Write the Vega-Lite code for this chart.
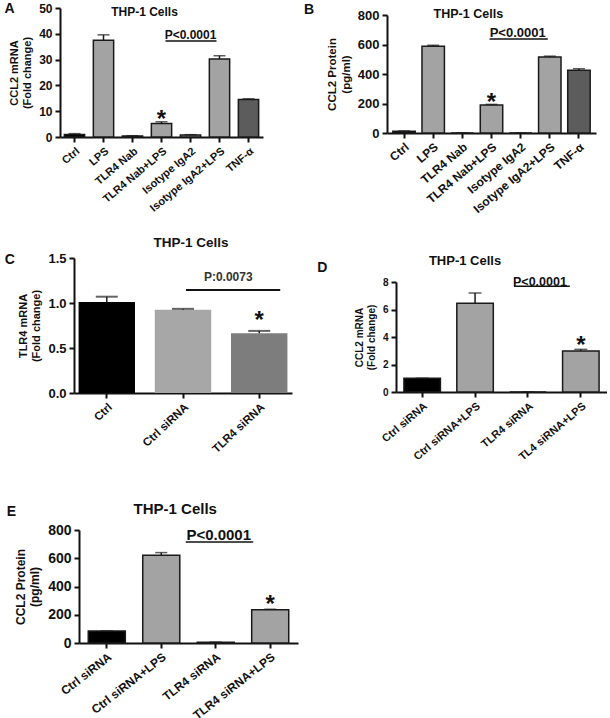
{
"$schema":"https://vega.github.io/schema/vega-lite/v6.json",
"background":"white",
"padding":{"left":4,"top":2,"right":0,"bottom":3},
"bounds":"full",
"spacing":6,
"resolve":{"scale":{"color":"independent"}},
"config":{
 "font":"Liberation Sans",
 "view":{"stroke":null},
 "axis":{"grid":false,"domainColor":"#111","domainWidth":2,"tickColor":"#111","tickWidth":2,"tickSize":5,"labelFontSize":11,"labelFontWeight":"bold","labelColor":"#111","titleFontSize":11,"titleFontWeight":"bold","titleColor":"#111","labelFont":"Liberation Sans","titleFont":"Liberation Sans","labelOverlap":false,"labelPadding":3,"titlePadding":6},
 "axisX":{"labelAngle":-40,"title":null},
 "text":{"font":"Liberation Sans","color":"#111","baseline":"middle"}
},
"hconcat":[
 {"bounds":"full","spacing":46,"resolve":{"scale":{"color":"independent"}},"vconcat":[
  {"bounds":"full","spacing":21,"resolve":{"scale":{"color":"independent"}},"vconcat":[
   {
    "width":203,"height":129,
    "data":{"values":[
     {"c":"Ctrl","v":1.0,"hi":1.3},
     {"c":"LPS","v":37.5,"hi":39.6},
     {"c":"TLR4 Nab","v":0.4,"hi":0.5},
     {"c":"TLR4 Nab+LPS","v":5.2,"hi":5.9},
     {"c":"Isotype IgA2","v":0.8,"hi":0.9},
     {"c":"Isotype IgA2+LPS","v":30.2,"hi":31.5},
     {"c":"TNF-α","v":14.5,"hi":14.8}
    ]},
    "encoding":{
     "x":{"field":"c","type":"nominal","scale":{"domain":["Ctrl","LPS","TLR4 Nab","TLR4 Nab+LPS","Isotype IgA2","Isotype IgA2+LPS","TNF-α"],"paddingInner":0.3,"paddingOuter":0.15},"axis":{"labelFontSize":11}},
     "y":{"field":"v","type":"quantitative","scale":{"domain":[0,50]},"axis":{"values":[0,10,20,30,40,50],"title":["CCL2 mRNA","(Fold change)"],"labelFontSize":12,"titleFontSize":11}}
    },
    "layer":[
     {"mark":{"type":"bar","stroke":"#1a1a1a","strokeWidth":1.5},"encoding":{"color":{"field":"c","type":"nominal","scale":{"domain":["Ctrl","LPS","TLR4 Nab","TLR4 Nab+LPS","Isotype IgA2","Isotype IgA2+LPS","TNF-α"],"range":["#000000","#a3a3a3","#a3a3a3","#a3a3a3","#a3a3a3","#a3a3a3","#5c5c5c"]},"legend":null}}},
     {"mark":{"type":"rule","color":"#1a1a1a","strokeWidth":1.5},"encoding":{"y2":{"field":"hi"}}},
     {"mark":{"type":"tick","color":"#1a1a1a","thickness":1.5,"size":12},"encoding":{"y":{"field":"hi","type":"quantitative"}}},
     {"data":{"values":[{"c":"TLR4 Nab+LPS","v":11.1}]},"mark":{"type":"text","text":"*","fontSize":24,"fontWeight":"bold","baseline":"top"},"encoding":{}},
     {"data":{"values":[{"c":"Isotype IgA2","v":39.5,"t":"P<0.0001"}]},"mark":{"type":"text","fontSize":12,"fontWeight":"bold","baseline":"middle"},"encoding":{"text":{"field":"t"}}},
     {"data":{"values":[{"c":"TLR4 Nab+LPS","c2":"Isotype IgA2+LPS","v":37.2}]},"mark":{"type":"rule","color":"#111","strokeWidth":1.5,"xOffset":4,"x2Offset":-3},"encoding":{"x2":{"field":"c2"}}},
     {"data":{"values":[{"c":"TLR4 Nab","v":48.4,"t":"THP-1 Cells"}]},"mark":{"type":"text","fontSize":12,"fontWeight":"bold","dx":12,"baseline":"middle"},"encoding":{"text":{"field":"t"}}},
     {"data":{"values":[{"c":"Ctrl","v":52.3,"t":"A"}]},"mark":{"type":"text","fontSize":14,"fontWeight":"bold","align":"left","baseline":"top","dx":-70},"encoding":{"text":{"field":"t"}}}
    ]
   },
   {"bounds":"flush","spacing":13,"resolve":{"scale":{"color":"independent"}},"hconcat":[
    {"data":{"values":[]},"mark":"point","width":1,"height":1},
    {
     "width":218,"height":135,
     "data":{"values":[
      {"c":"Ctrl","v":1.01,"hi":1.07},
      {"c":"Ctrl siRNA","v":0.925,"hi":0.935},
      {"c":"TLR4 siRNA","v":0.665,"hi":0.69}
     ]},
     "encoding":{
      "x":{"field":"c","type":"nominal","scale":{"domain":["Ctrl","Ctrl siRNA","TLR4 siRNA"],"paddingInner":0.26,"paddingOuter":0.06},"axis":{"labelFontSize":11.5,"labelAngle":-43}},
      "y":{"field":"v","type":"quantitative","scale":{"domain":[0,1.5]},"axis":{"values":[0,0.5,1,1.5],"format":".1f","title":["TLR4 mRNA","(Fold change)"],"labelFontSize":13,"titleFontSize":11}}
     },
     "layer":[
      {"mark":{"type":"bar"},"encoding":{"color":{"field":"c","type":"nominal","scale":{"domain":["Ctrl","Ctrl siRNA","TLR4 siRNA"],"range":["#000000","#a7a7a7","#7d7d7d"]},"legend":null}}},
      {"mark":{"type":"rule","color":"#222","strokeWidth":1.5},"encoding":{"y2":{"field":"hi"}}},
      {"mark":{"type":"tick","color":"#222","thickness":2,"size":22},"encoding":{"y":{"field":"hi","type":"quantitative"}}},
      {"data":{"values":[{"c":"TLR4 siRNA","v":0.93}]},"mark":{"type":"text","text":"*","fontSize":24,"fontWeight":"bold","baseline":"top"},"encoding":{}},
      {"data":{"values":[{"c":"TLR4 siRNA","v":1.29,"t":"P:0.0073"}]},"mark":{"type":"text","fontSize":12,"fontWeight":"bold","dx":-31,"color":"#333","baseline":"middle"},"encoding":{"text":{"field":"t"}}},
      {"data":{"values":[{"c":"Ctrl siRNA","c2":"TLR4 siRNA","v":1.144}]},"mark":{"type":"rule","color":"#111","strokeWidth":2,"xOffset":3,"x2Offset":21},"encoding":{"x2":{"field":"c2"}}},
      {"data":{"values":[{"c":"Ctrl siRNA","v":1.667,"t":"THP-1 Cells"}]},"mark":{"type":"text","fontSize":13.5,"fontWeight":"bold","dx":8,"baseline":"middle"},"encoding":{"text":{"field":"t"}}},
      {"data":{"values":[{"c":"Ctrl","v":1.556,"t":"C"}]},"mark":{"type":"text","fontSize":14,"fontWeight":"bold","align":"left","baseline":"top","dx":-102},"encoding":{"text":{"field":"t"}}}
     ]
    }
   ]}
  ]},
  {"bounds":"flush","spacing":18,"resolve":{"scale":{"color":"independent"}},"hconcat":[
   {"data":{"values":[]},"mark":"point","width":1,"height":1},
   {
    "width":219,"height":113,
    "data":{"values":[
     {"c":"Ctrl siRNA","v":85,"hi":85},
     {"c":"Ctrl siRNA+LPS","v":622,"hi":640},
     {"c":"TLR4 siRNA","v":5,"hi":6},
     {"c":"TLR4 siRNA+LPS","v":236,"hi":239}
    ]},
    "encoding":{
     "x":{"field":"c","type":"nominal","scale":{"domain":["Ctrl siRNA","Ctrl siRNA+LPS","TLR4 siRNA","TLR4 siRNA+LPS"],"paddingInner":0.32,"paddingOuter":0.17},"axis":{"labelFontSize":12,"labelAngle":-38}},
     "y":{"field":"v","type":"quantitative","scale":{"domain":[0,800]},"axis":{"values":[0,200,400,600,800],"title":["CCL2 Protein","(pg/ml)"],"labelFontSize":14,"titleFontSize":12}}
    },
    "layer":[
     {"mark":{"type":"bar","stroke":"#1a1a1a","strokeWidth":1.5},"encoding":{"color":{"field":"c","type":"nominal","scale":{"domain":["Ctrl siRNA","Ctrl siRNA+LPS","TLR4 siRNA","TLR4 siRNA+LPS"],"range":["#000000","#a3a3a3","#a3a3a3","#a3a3a3"]},"legend":null}}},
     {"mark":{"type":"rule","color":"#1a1a1a","strokeWidth":1.5},"encoding":{"y2":{"field":"hi"}}},
     {"mark":{"type":"tick","color":"#1a1a1a","thickness":1.5,"size":12},"encoding":{"y":{"field":"hi","type":"quantitative"}}},
     {"data":{"values":[{"c":"TLR4 siRNA+LPS","v":352}]},"mark":{"type":"text","text":"*","fontSize":24,"fontWeight":"bold","baseline":"top"},"encoding":{}},
     {"data":{"values":[{"c":"TLR4 siRNA","v":765,"t":"P<0.0001"}]},"mark":{"type":"text","fontSize":15,"fontWeight":"bold","dx":3,"baseline":"middle"},"encoding":{"text":{"field":"t"}}},
     {"data":{"values":[{"c":"TLR4 siRNA","c2":"TLR4 siRNA+LPS","v":715}]},"mark":{"type":"rule","color":"#111","strokeWidth":1.5,"xOffset":-30,"x2Offset":-17},"encoding":{"x2":{"field":"c2"}}},
     {"data":{"values":[{"c":"Ctrl siRNA+LPS","v":949,"t":"THP-1 Cells"}]},"mark":{"type":"text","fontSize":15,"fontWeight":"bold","dx":14,"baseline":"middle"},"encoding":{"text":{"field":"t"}}},
     {"data":{"values":[{"c":"Ctrl siRNA","v":977,"t":"E"}]},"mark":{"type":"text","fontSize":14,"fontWeight":"bold","align":"left","baseline":"top","dx":-100},"encoding":{"text":{"field":"t"}}}
    ]
   }
  ]}
 ]},
 {"bounds":"full","spacing":-6,"resolve":{"scale":{"color":"independent"}},"vconcat":[
  {"data":{"values":[]},"mark":"point","width":1,"height":1,"view":{"fill":"transparent","stroke":null}},
  {"bounds":"full","spacing":39,"resolve":{"scale":{"color":"independent"}},"vconcat":[
   {
    "width":209,"height":118,
    "data":{"values":[
     {"c":"Ctrl","v":12,"hi":14},
     {"c":"LPS","v":588,"hi":595},
     {"c":"TLR4 Nab","v":0,"hi":0},
     {"c":"TLR4 Nab+LPS","v":190,"hi":194},
     {"c":"Isotype IgA2","v":0,"hi":0},
     {"c":"Isotype IgA2+LPS","v":516,"hi":521},
     {"c":"TNF-α","v":425,"hi":436}
    ]},
    "encoding":{
     "x":{"field":"c","type":"nominal","scale":{"domain":["Ctrl","LPS","TLR4 Nab","TLR4 Nab+LPS","Isotype IgA2","Isotype IgA2+LPS","TNF-α"],"paddingInner":0.23,"paddingOuter":0.2},"axis":{"labelFontSize":12}},
     "y":{"field":"v","type":"quantitative","scale":{"domain":[0,800]},"axis":{"values":[0,200,400,600,800],"title":["CCL2 Protein","(pg/ml)"],"labelFontSize":13,"titleFontSize":11.5}}
    },
    "layer":[
     {"mark":{"type":"bar","stroke":"#1a1a1a","strokeWidth":1.5},"encoding":{"color":{"field":"c","type":"nominal","scale":{"domain":["Ctrl","LPS","TLR4 Nab","TLR4 Nab+LPS","Isotype IgA2","Isotype IgA2+LPS","TNF-α"],"range":["#000000","#a3a3a3","#a3a3a3","#a3a3a3","#a3a3a3","#a3a3a3","#5c5c5c"]},"legend":null}}},
     {"mark":{"type":"rule","color":"#1a1a1a","strokeWidth":1.5},"encoding":{"y2":{"field":"hi"}}},
     {"mark":{"type":"tick","color":"#1a1a1a","thickness":1.5,"size":12},"encoding":{"y":{"field":"hi","type":"quantitative"}}},
     {"data":{"values":[{"c":"TLR4 Nab+LPS","v":283}]},"mark":{"type":"text","text":"*","fontSize":24,"fontWeight":"bold","baseline":"top"},"encoding":{}},
     {"data":{"values":[{"c":"Isotype IgA2","v":678,"t":"P<0.0001"}]},"mark":{"type":"text","fontSize":13,"fontWeight":"bold","dx":-3,"baseline":"middle"},"encoding":{"text":{"field":"t"}}},
     {"data":{"values":[{"c":"TLR4 Nab+LPS","c2":"Isotype IgA2+LPS","v":637}]},"mark":{"type":"rule","color":"#111","strokeWidth":1.5,"xOffset":-2,"x2Offset":-2},"encoding":{"x2":{"field":"c2"}}},
     {"data":{"values":[{"c":"TLR4 Nab","v":807,"t":"THP-1 Cells"}]},"mark":{"type":"text","fontSize":12.5,"fontWeight":"bold","dx":6,"baseline":"middle"},"encoding":{"text":{"field":"t"}}},
     {"data":{"values":[{"c":"Ctrl","v":881,"t":"B"}]},"mark":{"type":"text","fontSize":14,"fontWeight":"bold","align":"left","baseline":"top","dx":-100},"encoding":{"text":{"field":"t"}}}
    ]
   },
   {"bounds":"flush","spacing":8,"resolve":{"scale":{"color":"independent"}},"hconcat":[
    {"data":{"values":[]},"mark":"point","width":1,"height":1},
    {
     "width":211,"height":110,
     "data":{"values":[
      {"c":"Ctrl siRNA","v":1.0,"hi":1.0},
      {"c":"Ctrl siRNA+LPS","v":6.45,"hi":7.2},
      {"c":"TLR4 siRNA","v":0,"hi":0},
      {"c":"TL4 siRNA+LPS","v":2.98,"hi":3.1}
     ]},
     "encoding":{
      "x":{"field":"c","type":"nominal","scale":{"domain":["Ctrl siRNA","Ctrl siRNA+LPS","TLR4 siRNA","TL4 siRNA+LPS"],"paddingInner":0.31,"paddingOuter":0.15},"axis":{"labelFontSize":11}},
      "y":{"field":"v","type":"quantitative","scale":{"domain":[0,8]},"axis":{"values":[0,2,4,6,8],"title":["CCL2 mRNA","(Fold change)"],"labelFontSize":10,"titleFontSize":10}}
     },
     "layer":[
      {"mark":{"type":"bar","stroke":"#1a1a1a","strokeWidth":1.5},"encoding":{"color":{"field":"c","type":"nominal","scale":{"domain":["Ctrl siRNA","Ctrl siRNA+LPS","TLR4 siRNA","TL4 siRNA+LPS"],"range":["#000000","#a3a3a3","#a3a3a3","#a3a3a3"]},"legend":null}}},
      {"mark":{"type":"rule","color":"#1a1a1a","strokeWidth":1.5},"encoding":{"y2":{"field":"hi"}}},
      {"mark":{"type":"tick","color":"#1a1a1a","thickness":1.5,"size":13},"encoding":{"y":{"field":"hi","type":"quantitative"}}},
      {"data":{"values":[{"c":"TL4 siRNA+LPS","v":4.2}]},"mark":{"type":"text","text":"*","fontSize":24,"fontWeight":"bold","baseline":"top"},"encoding":{}},
      {"data":{"values":[{"c":"TLR4 siRNA","v":8.0,"t":"P<0.0001"}]},"mark":{"type":"text","fontSize":12.5,"fontWeight":"bold","dx":12,"baseline":"middle"},"encoding":{"text":{"field":"t"}}},
      {"data":{"values":[{"c":"TLR4 siRNA","c2":"TL4 siRNA+LPS","v":7.7}]},"mark":{"type":"rule","color":"#111","strokeWidth":1.5,"xOffset":-14,"x2Offset":-11},"encoding":{"x2":{"field":"c2"}}},
      {"data":{"values":[{"c":"Ctrl siRNA+LPS","v":9.53,"t":"THP-1 Cells"}]},"mark":{"type":"text","fontSize":13,"fontWeight":"bold","dx":-10,"baseline":"middle"},"encoding":{"text":{"field":"t"}}},
      {"data":{"values":[{"c":"Ctrl siRNA","v":9.53,"t":"D"}]},"mark":{"type":"text","fontSize":14,"fontWeight":"bold","align":"left","baseline":"top","dx":-105},"encoding":{"text":{"field":"t"}}}
     ]
    }
   ]}
  ]}
 ]}
]
}
